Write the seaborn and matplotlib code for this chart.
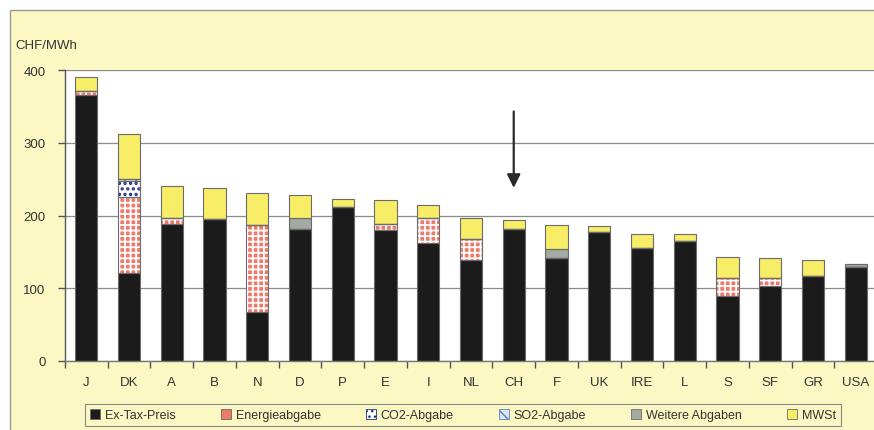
import numpy as np
import pandas as pd
import matplotlib
matplotlib.use("Agg")
import matplotlib.pyplot as plt
import seaborn as sns
from matplotlib.patches import Patch, Rectangle

# ---- data ----
countries = ["J", "DK", "A", "B", "N", "D", "P", "E", "I", "NL", "CH", "F",
             "UK", "IRE", "L", "S", "SF", "GR", "USA"]
ex_tax   = [365, 121, 188, 195, 68, 181, 211, 180, 162, 139, 182, 141, 177, 155, 165, 90, 103, 117, 129]
energie  = [6, 104, 9, 0, 119, 0, 0, 8, 34, 29, 0, 0, 0, 0, 0, 24, 11, 0, 0]
co2      = [0, 22, 0, 0, 0, 0, 0, 0, 0, 0, 0, 0, 0, 0, 0, 0, 0, 0, 0]
so2      = [0, 3, 0, 0, 0, 0, 0, 0, 0, 0, 0, 0, 0, 0, 0, 0, 0, 0, 0]
weitere  = [0, 0, 0, 0, 0, 16, 0, 0, 0, 0, 0, 13, 0, 0, 0, 0, 0, 0, 5]
mwst     = [20, 62, 43, 43, 44, 31, 11, 33, 19, 29, 12, 33, 9, 20, 10, 29, 27, 22, 0]
series_names = ["Ex-Tax-Preis", "Energieabgabe", "CO2-Abgabe", "SO2-Abgabe",
                "Weitere Abgaben", "MWSt"]
y_ticks = [0, 100, 200, 300, 400]
y_unit = "CHF/MWh"
highlight = "CH"

layers = [ex_tax, energie, co2, so2, weitere, mwst]

# styles: (facecolor, hatch, hatchcolor, hatch linewidth)
styles = [
    ("#1b1b1b", None, "#1b1b1b", 1.0),
    ("#EE7A6C", "+++", "#FFFFFF", 1.3),
    ("#FFFFFF", "...", "#1F2E86", 1.6),
    ("#D8E6F6", "\\\\\\", "#5A7FB8", 0.8),
    ("#A2AAA2", None, "#A2AAA2", 1.0),
    ("#F8ED66", None, "#F8ED66", 1.0),
]
outline = "#6b6b6b"
bg_yellow = "#FBF8C4"

sns.set_theme(style="white")
plt.rcParams["font.family"] = ["Liberation Sans", "DejaVu Sans"]

W, H = 874, 431
fig = plt.figure(figsize=(W / 100, H / 100), dpi=100)
fig.patch.set_facecolor("white")
fig.patches.append(Rectangle((10 / W, -0.05), 1.2, (H - 11) / H + 0.05,
                             transform=fig.transFigure, facecolor=bg_yellow,
                             edgecolor="#9a9a9a", lw=1.0, zorder=-10))

ax = fig.add_axes([65 / W, (H - 362) / H, (877 - 65) / W, (362 - 71) / H])
ax.set_facecolor("white")

df = pd.DataFrame({"country": countries})
bottom = np.zeros(len(countries))
for vals, (fc, hatch, hc, hlw) in zip(layers, styles):
    vals = np.asarray(vals, dtype=float)
    d = df.assign(v=vals)
    with plt.rc_context({"hatch.linewidth": hlw}):
        sns.barplot(data=d, x="country", y="v", order=countries, bottom=bottom,
                    color=fc, saturation=1, edgecolor=hc, hatch=hatch,
                    linewidth=0, width=0.52, errorbar=None, ax=ax, zorder=2)
    sns.barplot(data=d, x="country", y="v", order=countries, bottom=bottom,
                color=outline, saturation=1, fill=False, linewidth=0.8,
                width=0.52, errorbar=None, ax=ax, zorder=3)
    bottom = bottom + vals

ax.set_xlim(-0.5, len(countries) - 0.5)
ax.set_ylim(0, 400)
ax.set_yticks(y_ticks)
ax.set_xlabel("")
ax.set_ylabel("")
ax.grid(axis="y", color="#8a8a8a", lw=0.9, zorder=0)
ax.grid(axis="x", visible=False)
ax.set_axisbelow(True)
for s in ["top", "right"]:
    ax.spines[s].set_visible(False)
ax.spines["left"].set_color("#555555")
ax.spines["bottom"].set_color("#777777")
ax.spines["left"].set_linewidth(1.0)
ax.spines["bottom"].set_linewidth(1.0)

ax.set_xticks(np.arange(-0.5, len(countries), 1), minor=True)
ax.tick_params(axis="x", which="major", length=0, pad=11, labelsize=9.5,
               labelcolor="#333333")
ax.tick_params(axis="x", which="minor", length=5, width=1, color="#555555",
               direction="out", bottom=True)
ax.tick_params(axis="y", which="major", length=5, width=1, color="#555555",
               direction="out", left=True, pad=9, labelsize=9.5,
               labelcolor="#333333")

fig.text(15 / W, 1 - 46 / H, y_unit, fontsize=9.5, color="#333333",
         va="center", ha="left")

ci = countries.index(highlight)
ax.annotate("", xy=(ci, 238), xytext=(ci, 343),
            arrowprops=dict(arrowstyle="-|>", color="#2a2a2a", lw=1.6,
                            mutation_scale=20, shrinkA=0, shrinkB=0),
            zorder=5)

handles = []
for i, (fc, hatch, hc, hlw) in enumerate(styles):
    if i == 1:
        handles.append(Patch(facecolor=fc, edgecolor=outline, lw=0.6))
    else:
        handles.append(Patch(facecolor=fc, edgecolor=hc if hatch else outline,
                             hatch=hatch, lw=0.6))
leg = fig.legend(handles, series_names, loc="center",
                 bbox_to_anchor=(463 / W, 1 - 416 / H), ncol=6,
                 fontsize=9, frameon=True, fancybox=False,
                 columnspacing=3.6, handlelength=0.8, handleheight=0.8,
                 handletextpad=0.4, borderpad=0.4)
leg.get_frame().set_facecolor(bg_yellow)
leg.get_frame().set_edgecolor("#8a8a8a")
leg.get_frame().set_linewidth(0.8)
leg.get_frame().set_alpha(None)
for t in leg.get_texts():
    t.set_color("#333333")

fig.savefig("out.png", dpi=100, facecolor=fig.get_facecolor())
